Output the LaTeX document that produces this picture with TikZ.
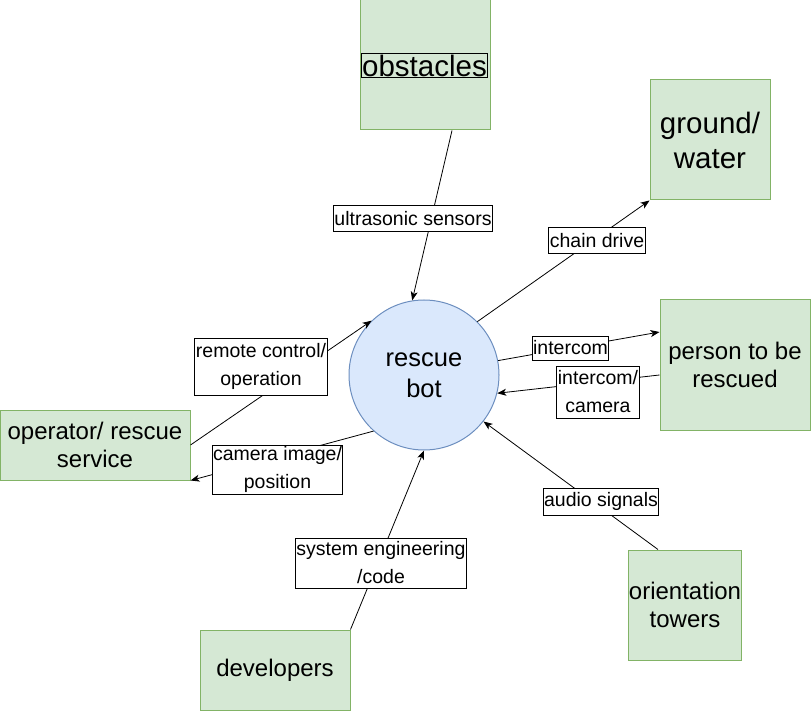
\documentclass[tikz,border=0pt]{standalone}
\usepackage{fontspec}
\setmainfont{Liberation Sans}
\usetikzlibrary{arrows.meta}

\definecolor{boxgreen}{HTML}{D5E8D4}
\definecolor{linegreen}{HTML}{82B366}
\definecolor{botblue}{HTML}{DAE8FC}
\definecolor{lineblue}{HTML}{6C8EBF}

\begin{document}
\begin{tikzpicture}[x=1pt,y=-1pt,
		actor/.style={draw=linegreen,fill=boxgreen,line width=1pt,inner sep=0pt,align=center,
			font=\fontsize{24}{28}\selectfont},
		flowlabel/.style={draw,fill=white,line width=1pt,inner sep=1pt,minimum height=26pt,align=center,
			font=\fontsize{19.5}{28}\selectfont},
		flow/.style={line width=0.8pt,-{Stealth[length=9pt,width=7pt,inset=2.5pt]}}]

		\useasboundingbox (0,0) rectangle (811,711);

		% centre
		\node	[circle,draw=lineblue,fill=botblue,line width=1pt,minimum size=150pt,inner sep=0pt,
				align=center,font=\fontsize{25.5}{31}\selectfont]	(bot)	at (424,375)	{rescue\\bot};

		% surroundings
		\node	[actor,minimum width=130pt,minimum height=130pt]	(obstacles)	at (425,65)	{};
		\node	[draw,line width=1pt,inner sep=1pt,font=\fontsize{29.5}{34}\selectfont]	(obstacletext)	at (424.5,65.5)	{obstacles};
		\node	[actor,minimum width=120pt,minimum height=120pt,font=\fontsize{29.5}{35}\selectfont]	(ground)	at (710,140)	{ground/\\water};
		\node	[actor,minimum width=150pt,minimum height=130pt]	(person)	at (735,365)	{person to be\\rescued};
		\node	[actor,minimum width=110pt,minimum height=110pt]	(towers)	at (685,605)	{orientation\\towers};
		\node	[actor,minimum width=150pt,minimum height=80pt]	(developers)	at (275,670)	{developers};
		\node	[actor,minimum width=190pt,minimum height=70pt]	(operator)	at (95,445)	{operator/ rescue\\service};

		% connectors
		\draw	[flow]	([xshift=27pt]obstacles.south) -- (bot.99);
		\draw	[flow]	(bot.45) -- (ground.south west);
		\draw	[flow]	(bot.11) -- ([yshift=33pt]person.west);
		\draw	[flow]	([yshift=-10pt]person.west) -- (bot.-14);
		\draw	[flow]	([xshift=-27pt]towers.north) -- (bot.-38);
		\draw	[flow]	(developers.north east) -- (bot.south);
		\draw	[flow]	(operator.east) -- (bot.134);
		\draw	[flow]	(bot.-132) -- (operator.south east);

		% labels
		\node	[flowlabel]	(sensorlabel)	at (413,219)	{ultrasonic sensors};
		\node	[flowlabel]	(drivelabel)	at (597,240.5)	{chain drive};
		\node	[flowlabel,minimum height=24pt]	(intercomlabel)	at (570.5,348)	{intercom};
		\node	[flowlabel,minimum height=52pt]	(cameralabel)	at (598,392)	{intercom/\\camera};
		\node	[flowlabel,minimum height=27pt]	(audiolabel)	at (601,501.5)	{audio signals};
		\node	[flowlabel,minimum height=50pt]	(codelabel)	at (381,563)	{system engineering\\/code};
		\node	[flowlabel,minimum height=57pt]	(remotelabel)	at (261,366.5)	{remote control/\\operation};
		\node	[flowlabel,minimum height=49pt]	(imagelabel)	at (277.5,469.5)	{camera image/\\position};
	\end{tikzpicture}
\end{document}
